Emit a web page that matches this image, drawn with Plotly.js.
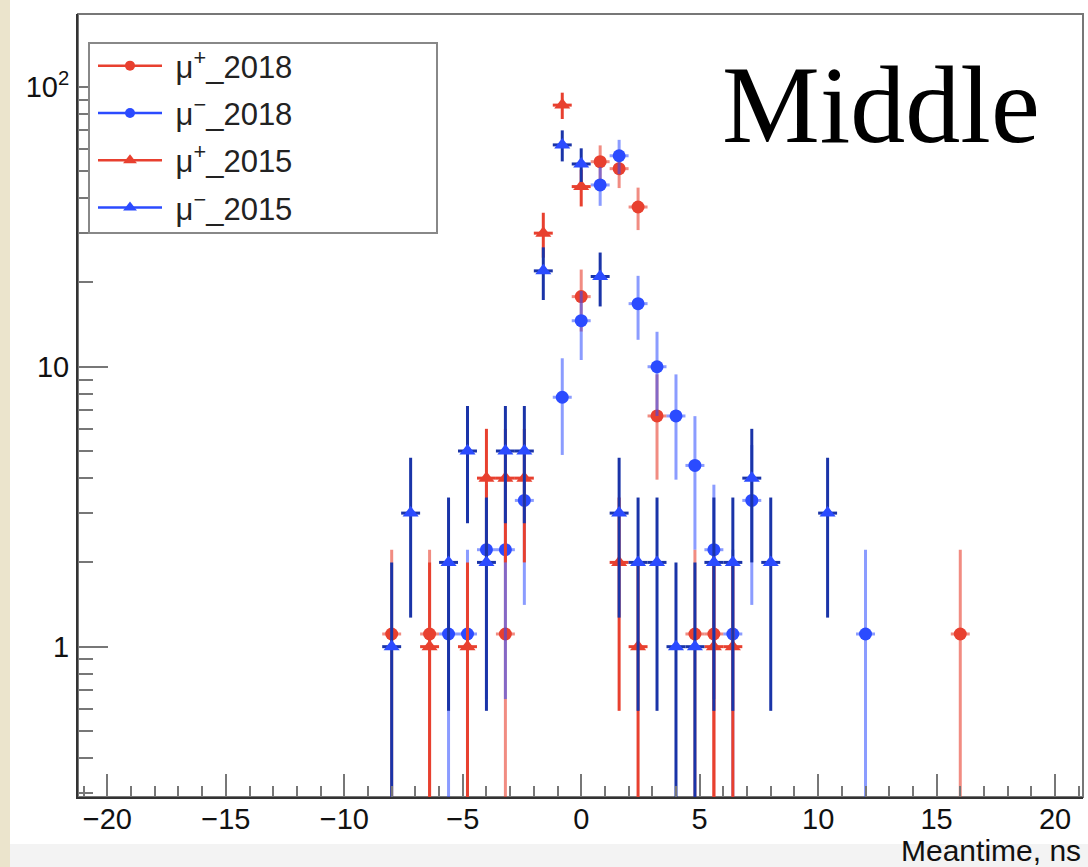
<!DOCTYPE html>
<html><head><meta charset="utf-8">
<script src="https://cdn.plot.ly/plotly-3.0.1.min.js"></script>
<style>html,body{margin:0;padding:0;background:#fff;} #chart{width:1088px;height:867px;}</style>
</head><body><div id="chart"></div>
<script>
// Bin centres (ns), values and errors
const bins_mup2018 = [-8.0,-6.4,-3.2,0.0,0.8,1.6,2.4,3.2,4.8,5.6,16.0];
const vals_mup2018 = [1.11,1.11,1.11,17.8,54.0,51.0,37.2,6.67,1.11,1.11,1.11];
const errs_mup2018 = [1.11,1.11,1.11,4.44,7.75,7.53,6.43,2.72,1.11,1.11,1.11];

const bins_mum2018 = [-5.6,-4.8,-4.0,-3.2,-2.4,-0.8,0.0,0.8,1.6,2.4,3.2,4.0,4.8,5.6,6.4,7.2,12.0];
const vals_mum2018 = [1.11,1.11,2.22,2.22,3.33,7.78,14.6,44.6,56.7,16.8,10.0,6.67,4.44,2.22,1.11,3.33,1.11];
const errs_mum2018 = [1.11,1.11,1.57,1.57,1.92,2.94,4.03,7.04,7.94,4.32,3.33,2.72,2.22,1.57,1.11,1.92,1.11];

const bins_mup2015 = [-6.4,-4.8,-4.0,-3.2,-2.4,-1.6,-0.8,0.0,1.6,2.4,5.6,6.4];
const vals_mup2015 = [1,1,4,4,4,30,86,44,2,1,1,1];
const errs_mup2015 = [1,1,2,2,2,5.48,9.27,6.63,1.41,1,1,1];

const bins_mum2015 = [-8.0,-7.2,-5.6,-4.8,-4.0,-3.2,-2.4,-1.6,-0.8,0.0,0.8,1.6,2.4,3.2,4.0,4.8,5.6,6.4,7.2,8.0,10.4];
const vals_mum2015 = [1,3,2,5,2,5,5,22,62,53,21,3,2,2,1,1,2,2,4,2,3];
const errs_mum2015 = [1,1.73,1.41,2.24,1.41,2.24,2.24,4.69,7.87,7.28,4.58,1.73,1.41,1.41,1,1,1.41,1.41,2,1.41,1.73];

const binHalfWidth = 0.4;
const seriesNames = ['\u00a0μ<sup>+</sup>_2018','\u00a0μ<sup>−</sup>_2018','\u00a0μ<sup>+</sup>_2015','\u00a0μ<sup>−</sup>_2015'];

const RED = '#e8402f', BLUE = '#2b4bff';
const FONT = 'Liberation Sans, Arial, sans-serif';

function series(name, xs, ys, es, color, symbol, errColor){
  return {
    type:'scatter', mode:'markers', name:name, showlegend:false,
    x: xs, y: ys,
    marker:{color:color, size: symbol==='circle'?13:14, symbol:symbol},
    error_y:{type:'data', array:es, visible:true, color:errColor, thickness:3, width:0},
    error_x:{type:'constant', value:binHalfWidth, visible:true, color:errColor, thickness:3, width:0},
    hoverinfo:'x+y'
  };
}
function legendEntry(name, color, symbol, group){
  return {
    type:'scatter', mode:'lines+markers', name:name, legendgroup:group,
    x:[null], y:[null],
    line:{color:color, width:2.5},
    marker:{color:color, size: symbol==='circle'?10:12, symbol:symbol}
  };
}
const traces = [
  series(seriesNames[0], bins_mup2018, vals_mup2018, errs_mup2018, RED, 'circle', 'rgba(232,64,47,0.6)'),
  series(seriesNames[1], bins_mum2018, vals_mum2018, errs_mum2018, BLUE, 'circle', 'rgba(43,75,255,0.55)'),
  series(seriesNames[2], bins_mup2015, vals_mup2015, errs_mup2015, RED, 'triangle-up', RED),
  series(seriesNames[3], bins_mum2015, vals_mum2015, errs_mum2015, BLUE, 'triangle-up', '#1a34a8'),
  legendEntry(seriesNames[0], RED, 'circle', 'g1'),
  legendEntry(seriesNames[1], BLUE, 'circle', 'g2'),
  legendEntry(seriesNames[2], RED, 'triangle-up', 'g3'),
  legendEntry(seriesNames[3], BLUE, 'triangle-up', 'g4')
];

const PW = 1005, PH = 783;
const px = v => (v-78)/PW, py = v => (797-v)/PH;
const layout = {
  width:1088, height:867,
  margin:{l:78, r:5, t:14, b:70, pad:0},
  paper_bgcolor:'#ffffff', plot_bgcolor:'#ffffff',
  showlegend:true,
  font:{family:FONT, size:29, color:'#111'},
  xaxis:{
    range:[-21.24, 21.18], tick0:0, dtick:5,
    ticks:'inside', ticklen:23, tickwidth:2, tickcolor:'#777',
    showgrid:false, zeroline:false,
    showline:true, linecolor:'#333', linewidth:2,
    tickfont:{family:FONT, size:29, color:'#111'},
    ticklabelstandoff:-5,
    minor:{dtick:1, tick0:0, ticks:'inside', ticklen:11, tickwidth:2, tickcolor:'#777', showgrid:false}
  },
  yaxis:{
    type:'log', range:[-0.537, 2.26],
    tickvals:[1,10,100], ticktext:['1','10','10<sup>2</sup>'],
    ticks:'inside', ticklen:30, tickwidth:2, tickcolor:'#777',
    showgrid:false, zeroline:false,
    showline:true, linecolor:'#333', linewidth:2,
    tickfont:{family:FONT, size:29, color:'#111'},
    ticklabelstandoff:1,
    minor:{tickvals:[0.3,0.4,0.5,0.6,0.7,0.8,0.9,2,3,4,5,6,7,8,9,20,30,40,50,60,70,80,90],
           ticks:'inside', ticklen:15, tickwidth:2, tickcolor:'#777', showgrid:false}
  },
  legend:{
    x:px(93), y:py(39), xanchor:'left', yanchor:'top',
    bgcolor:'rgba(0,0,0,0)', borderwidth:0,
    font:{family:FONT, size:31, color:'#222'},
    itemwidth:64, traceorder:'grouped', tracegroupgap:4
  },
  shapes:[
    {type:'rect', xref:'paper', yref:'paper', x0:-78/PW, x1:-68/PW, y0:-70/PH, y1:1+14/PH,
     fillcolor:'#ebe4cc', line:{width:0}, layer:'below'},
    {type:'rect', xref:'paper', yref:'paper', x0:-68/PW, x1:1+5/PW, y0:-70/PH, y1:(797-844)/PH,
     fillcolor:'#f3f3f3', line:{width:0}, layer:'below'},
    {type:'rect', xref:'paper', yref:'paper', x0:0, x1:1, y0:0, y1:1,
     fillcolor:'rgba(0,0,0,0)', line:{width:2, color:'#777'}, layer:'below'},
    // legend frame
    {type:'rect', xref:'paper', yref:'paper', x0:px(89), x1:px(437), y0:py(233), y1:py(43),
     fillcolor:'#ffffff', line:{width:2, color:'#888'}, layer:'above'}
  ],
  annotations:[
    {text:'Middle', xref:'paper', yref:'paper', x:px(720), y:py(42), xanchor:'left', yanchor:'top',
     showarrow:false, font:{family:'Liberation Serif, Times New Roman, serif', size:110, color:'#000'}},
    {text:'Meantime, ns', xref:'paper', yref:'paper', x:1, y:py(832), xanchor:'right', yanchor:'top',
     showarrow:false, font:{family:FONT, size:30, color:'#111'}}
  ]
};
Plotly.newPlot('chart', traces, layout, {displayModeBar:false, staticPlot:true});
</script></body></html>
